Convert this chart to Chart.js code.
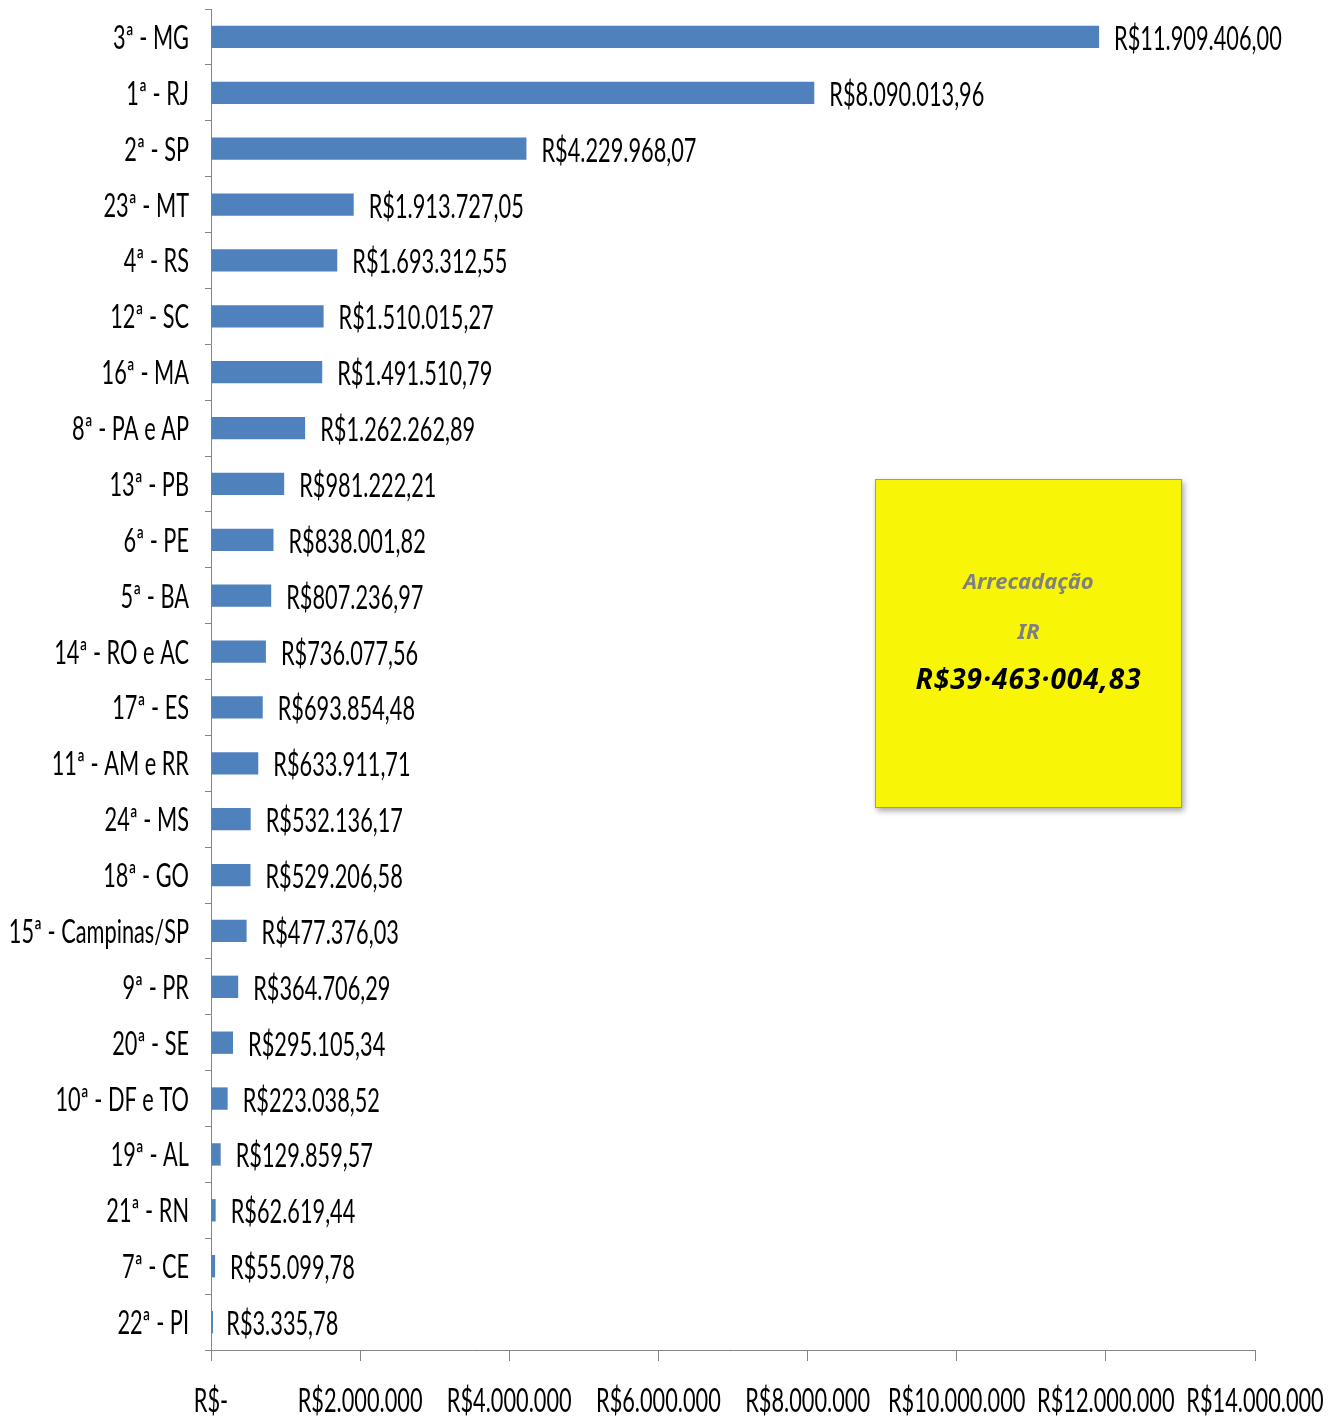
<!DOCTYPE html>
<html lang="pt-BR">
<head>
<meta charset="utf-8">
<title>Arrecadação IR</title>
<script src="https://cdn.jsdelivr.net/npm/chart.js@4.4.1/dist/chart.umd.min.js"></script>
<style>
  html, body { margin: 0; padding: 0; background: #fff; }
  #wrap { position: relative; width: 1343px; height: 1418px; }
  #total {
    position: absolute; left: 875px; top: 479px; width: 305px; height: 327px;
    background: #f8f606; border: 1px solid #9a9a9a;
    box-shadow: 2px 3px 6px rgba(0, 0, 0, 0.35);
    font-family: "Noto Sans", sans-serif; font-style: italic; font-weight: bold;
    text-align: center;
  }
  #total div { position: absolute; left: 0; right: 0; line-height: 40px; }
  .muted { color: #808080; font-size: 22px; }
  .big { color: #000; font-size: 28px; letter-spacing: 1px; }
</style>
</head>
<body>
<div id="wrap">
  <canvas id="chart" width="1343" height="1418"></canvas>
  <div id="total">
    <div class="muted" style="top:80px">Arrecadação</div>
    <div class="muted" style="top:130px">IR</div>
    <div class="big" id="totalValue" style="top:178px"></div>
  </div>
</div>
<script>
const regions = ['3ª - MG', '1ª - RJ', '2ª - SP', '23ª - MT', '4ª - RS', '12ª - SC', '16ª - MA',
  '8ª - PA e AP', '13ª - PB', '6ª - PE', '5ª - BA', '14ª - RO e AC', '17ª - ES', '11ª - AM e RR',
  '24ª - MS', '18ª - GO', '15ª - Campinas/SP', '9ª - PR', '20ª - SE', '10ª - DF e TO',
  '19ª - AL', '21ª - RN', '7ª - CE', '22ª - PI'];
const amounts = [11909406.00, 8090013.96, 4229968.07, 1913727.05, 1693312.55, 1510015.27, 1491510.79,
  1262262.89, 981222.21, 838001.82, 807236.97, 736077.56, 693854.48, 633911.71,
  532136.17, 529206.58, 477376.03, 364706.29, 295105.34, 223038.52,
  129859.57, 62619.44, 55099.78, 3335.78];
const axisMax = 14000000;
const axisStep = 2000000;

// formato brasileiro: R$1.234.567,89
const withDots = s => s.replace(/\B(?=(\d{3})+(?!\d))/g, '.');
const money = v => {
  const [int, dec] = v.toFixed(2).split('.');
  return 'R$' + withDots(int) + ',' + dec;
};
const tickMoney = v => v === 0 ? 'R$-' : 'R$' + withDots(String(v));

const total = amounts.reduce((a, b) => a + b, 0);
document.getElementById('totalValue').textContent = money(total).replace(/\./g, '·');

// texto "apertado" como no original
const squeeze = 0.68;
const drawText = (ctx, text, x, y, align) => {
  ctx.save();
  ctx.translate(x, y);
  ctx.scale(squeeze, 1);
  ctx.textAlign = align;
  ctx.textBaseline = 'alphabetic';
  ctx.fillText(text, 0, 0);
  ctx.restore();
};

const labelsPlugin = {
  id: 'labels',
  afterDraw(chart) {
    const { ctx, chartArea } = chart;
    const xs = chart.scales.x, ys = chart.scales.y;
    ctx.save();
    ctx.font = '32px Lato';
    ctx.fillStyle = '#000';
    regions.forEach((r, i) => {
      const y = ys.getPixelForValue(i);
      drawText(ctx, r, chartArea.left - 22, y + 12, 'right');
      drawText(ctx, money(amounts[i]), xs.getPixelForValue(amounts[i]) + 15, y + 13, 'left');
    });
    xs.ticks.forEach((t, i) => {
      drawText(ctx, tickMoney(t.value), xs.getPixelForTick(i), chartArea.bottom + 62, 'center');
    });
    ctx.restore();
  }
};

new Chart(document.getElementById('chart'), {
  type: 'bar',
  data: {
    labels: regions,
    datasets: [{
      data: amounts,
      backgroundColor: '#4f81bd',
      categoryPercentage: 1,
      barPercentage: 0.4,
      minBarLength: 2
    }]
  },
  options: {
    indexAxis: 'y',
    responsive: false,
    animation: false,
    layout: { padding: { top: 9, right: 88, left: 0, bottom: 0 } },
    plugins: { legend: { display: false }, tooltip: { enabled: false } },
    scales: {
      x: {
        min: 0, max: axisMax,
        ticks: { stepSize: axisStep, display: false },
        grid: { drawOnChartArea: false, tickLength: 11, color: '#868686' },
        border: { color: '#868686' },
        afterFit: s => { s.height = 68; }
      },
      y: {
        ticks: { display: false },
        grid: { drawOnChartArea: false, offset: true, tickLength: 6, color: '#868686' },
        border: { color: '#868686' },
        afterFit: s => { s.width = 211; }
      }
    }
  },
  plugins: [labelsPlugin]
});
</script>
</body>
</html>
